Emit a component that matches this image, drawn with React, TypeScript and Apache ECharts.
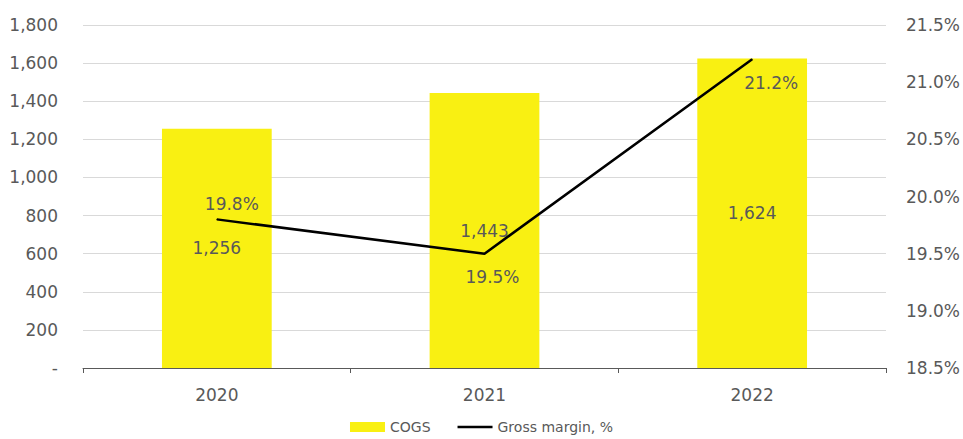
import React, { useEffect, useRef } from "react";
import * as echarts from "echarts";

const years = ["2020", "2021", "2022"];
const cogs = [1256, 1443, 1624];
const grossMargin = [19.8, 19.5, 21.2];
// label placement for the margin values: [position, dx, dy]
const marginLabelPlacement: [string, number, number][] = [
  ["top", 15, -1],
  ["bottom", 8, 9],
  ["bottom", 19, 10],
];

const FONT = "DejaVu Sans";
const TEXT = "#595959";

export default function App() {
  const ref = useRef<HTMLDivElement>(null);

  useEffect(() => {
    if (!ref.current) return;
    const chart = echarts.init(ref.current, null, { renderer: "svg" });
    chart.setOption({
      animation: false,
      textStyle: { fontFamily: FONT, color: TEXT },
      grid: { left: 83, right: 75, top: 25, bottom: 71 },
      legend: {
        top: 420,
        left: "center",
        padding: 0,
        itemWidth: 35,
        itemHeight: 10,
        itemGap: 27,
        textStyle: { fontFamily: FONT, fontSize: 14, color: TEXT },
        data: [
          { name: "COGS", icon: "rect" },
          { name: "Gross margin, %", icon: "path://M0,0 H35 V2.5 H0 Z" },
        ],
      },
      xAxis: {
        type: "category",
        data: years,
        axisLine: { lineStyle: { color: "#595959", width: 1 } },
        axisTick: { show: true, length: 5, lineStyle: { color: "#595959" } },
        axisLabel: { fontFamily: FONT, fontSize: 17, color: TEXT, margin: 18 },
      },
      yAxis: [
        {
          type: "value",
          min: 0,
          max: 1800,
          interval: 200,
          axisLine: { show: false },
          axisTick: { show: false },
          splitLine: { lineStyle: { color: "#d9d9d9", width: 1 } },
          axisLabel: {
            fontFamily: FONT,
            fontSize: 17,
            color: TEXT,
            margin: 25,
            formatter: (v: number) => (v === 0 ? "-" : v.toLocaleString("en-US")),
          },
        },
        {
          type: "value",
          min: 18.5,
          max: 21.5,
          interval: 0.5,
          axisLine: { show: false },
          axisTick: { show: false },
          splitLine: { show: false },
          axisLabel: {
            fontFamily: FONT,
            fontSize: 17,
            color: TEXT,
            margin: 20,
            formatter: (v: number) => v.toFixed(1) + "%",
          },
        },
      ],
      series: [
        {
          name: "COGS",
          type: "bar",
          data: cogs,
          barWidth: "41%",
          itemStyle: { color: "#f9f012" },
          label: {
            show: true,
            position: "inside",
            fontFamily: FONT,
            fontSize: 17,
            color: TEXT,
            formatter: (p: any) => Number(p.value).toLocaleString("en-US"),
          },
        },
        {
          name: "Gross margin, %",
          type: "line",
          yAxisIndex: 1,
          symbol: "circle",
          symbolSize: 1,
          showSymbol: true,
          lineStyle: { color: "#000000", width: 2.5 },
          itemStyle: { color: "#000000" },
          data: grossMargin.map((v, i) => ({
            value: v,
            label: {
              show: true,
              position: marginLabelPlacement[i][0],
              offset: [marginLabelPlacement[i][1], marginLabelPlacement[i][2]],
              fontFamily: FONT,
              fontSize: 17,
              color: TEXT,
              formatter: (p: any) => Number(p.value).toFixed(1) + "%",
            },
          })),
        },
      ],
    });
    return () => chart.dispose();
  }, []);

  return <div ref={ref} style={{ width: 963, height: 439, position: "absolute", left: 0, top: 0 }} />;
}
